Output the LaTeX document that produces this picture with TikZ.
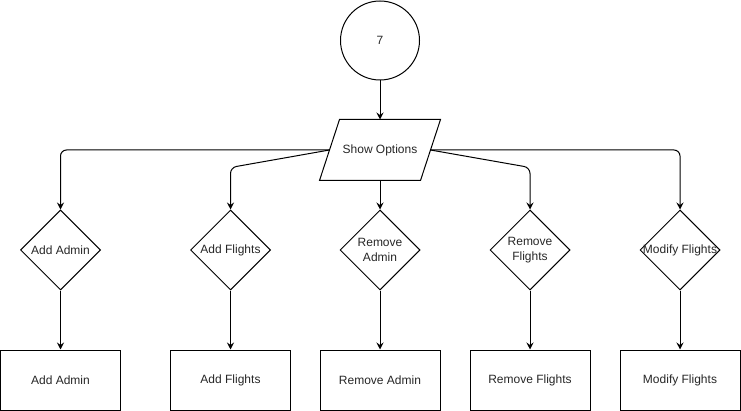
\documentclass[tikz,border=0pt]{standalone}
\usepackage{fontspec}
\setmainfont{Liberation Sans}
\usetikzlibrary{shapes.geometric,
	arrows.meta,
	calc,
	positioning}
\tikzstyle{cir}=[draw, circle, minimum size=79pt, inner sep=0]
\tikzstyle{io}=[rectangle, minimum width=100pt, minimum height=60pt, inner sep=0]
\tikzstyle{dec}=[draw, diamond, minimum size=80pt, inner sep=0, align=center]
\tikzstyle{proc}=[draw, rectangle, minimum width=120pt, minimum height=60pt]
\tikzstyle{ln}=[-{Stealth[length=7pt, width=7pt, inset=2.5pt]}, rounded corners=6pt]

\begin{document}
\begin{tikzpicture}[x=1pt, y=-1pt, line width=1pt,
		font=\fontsize{12}{15}\selectfont, text=black!85]
	\useasboundingbox (0,0) rectangle (741,411);
	\node[cir] (start) at (380,40.5) {7};
	\node[io] (opts) at (380,150) {Show Options};
	% parallelogram round the options
	\draw ($(opts.north west)+(10,0)$) -- ($(opts.north east)+(10,0)$)
		-- ($(opts.south east)+(-10,0)$) -- ($(opts.south west)+(-10,0)$) -- cycle;

	\node[dec] (dAA) at (60.5,250) {Add Admin};
	\node[dec] (dAF) at (230.5,250) {Add Flights};
	\node[dec] (dRA) at (380,250) {Remove\\Admin};
	\node[dec] (dRF) at (530,250) {Remove\\Flights};
	\node[dec] (dMF) at (680,250) {\makebox[0pt]{Modify Flights}};

	\node[proc] (pAA) at (60.5,380) {Add Admin};
	\node[proc] (pAF) at (230.5,380) {Add Flights};
	\node[proc] (pRA) at (380,380) {Remove Admin};
	\node[proc] (pRF) at (530,380) {Remove Flights};
	\node[proc] (pMF) at (680,380) {Modify Flights};

	\draw[ln] (start) -- (opts);
	\draw[ln] (opts.west) -| (dAA);
	\draw[ln] (opts.west) -- ($(dAF.north)+(0,-42)$) -- (dAF);
	\draw[ln] (opts) -- (dRA);
	\draw[ln] (opts.east) -- ($(dRF.north)+(0,-42)$) -- (dRF);
	\draw[ln] (opts.east) -| (dMF);

	\draw[ln] (dAA) -- (pAA);
	\draw[ln] (dAF) -- (pAF);
	\draw[ln] (dRA) -- (pRA);
	\draw[ln] (dRF) -- (pRF);
	\draw[ln] (dMF) -- (pMF);
\end{tikzpicture}
\end{document}
